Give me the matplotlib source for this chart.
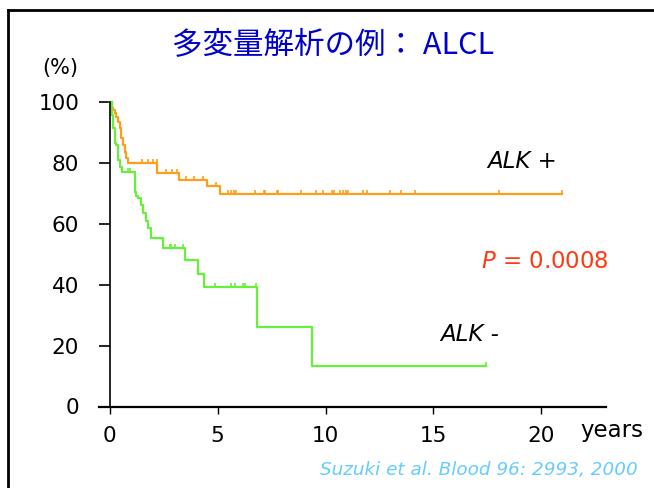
import matplotlib.pyplot as plt
from matplotlib.lines import Line2D

# Kaplan-Meier curves, ALCL by ALK status
alk_pos_time = [0, 0.08, 0.15, 0.23, 0.31, 0.39, 0.46, 0.54, 0.62, 0.69, 0.77, 0.85,
                2.2, 3.2, 4.5, 5.1, 20.96]
alk_pos_surv = [100, 98.0, 97.4, 96.3, 95.2, 93.5, 91.4, 88.2, 85.9, 83.7, 81.5, 80.0,
                76.7, 74.4, 72.4, 69.7, 69.7]

alk_neg_time = [0, 0.08, 0.15, 0.23, 0.31, 0.39, 0.46, 0.55, 1.16, 1.23, 1.31, 1.46,
                1.54, 1.70, 1.77, 1.93, 2.47, 3.5, 4.09, 4.35, 6.84, 9.35, 17.44]
alk_neg_surv = [100, 95.7, 91.5, 86.6, 85.9, 81.0, 78.8, 77.0, 70.6, 69.0, 68.4, 66.2,
                63.5, 60.8, 58.6, 55.3, 52.2, 48.0, 43.6, 39.2, 26.0, 13.4, 13.4]

# censored observations
alk_pos_cens_t = [1.5, 1.76, 2.0, 2.2, 2.6, 2.9, 3.1, 3.55, 3.9, 4.32, 4.9,
                  5.48, 5.63, 5.75, 5.83, 6.71, 7.13, 7.21, 7.76, 7.79, 8.84, 9.57, 9.87,
                  10.31, 10.37, 10.69, 10.83, 10.93, 11.03, 11.73, 11.91, 12.99, 13.5,
                  14.17, 18.06, 20.96]
alk_pos_cens_s = [80.0, 80.0, 80.0, 80.0, 76.7, 76.7, 76.7, 74.4, 74.4, 74.4, 72.4] + [69.7] * 25
alk_neg_cens_t = [0.83, 0.93, 2.78, 2.82, 3.0, 3.39, 4.86, 5.63, 5.82, 6.17, 6.28, 6.79, 17.44]
alk_neg_cens_s = [77.0, 77.0, 52.2, 52.2, 52.2, 52.2, 39.2, 39.2, 39.2, 39.2, 39.2, 39.2, 13.4]

xticks = [0, 5, 10, 15, 20]
yticks = [0, 20, 40, 60, 80, 100]

orange = '#FF9E1A'
green = '#66F03A'

plt.rcParams['font.family'] = ['DejaVu Sans']

W, H = 654, 488
fig = plt.figure(figsize=(W / 100, H / 100), dpi=100)
ax = fig.add_axes([99 / W, 81.5 / H, 507 / W, 304.5 / H])

ax.step(alk_pos_time, alk_pos_surv, where='post', color=orange, lw=1.6, clip_on=False)
ax.step(alk_neg_time, alk_neg_surv, where='post', color=green, lw=1.6, clip_on=False)
tick_mark = [(0, 0), (0, 1)]
ax.plot(alk_pos_cens_t, alk_pos_cens_s, ls='none', marker=tick_mark, ms=6, mew=1.2,
        color=orange, clip_on=False)
ax.plot(alk_neg_cens_t, alk_neg_cens_s, ls='none', marker=tick_mark, ms=6, mew=1.2,
        color=green, clip_on=False)

ax.set_xlim(-0.5, 23)
ax.set_ylim(0, 100)
ax.set_xticks(xticks)
ax.set_yticks(yticks)
ax.spines['top'].set_visible(False)
ax.spines['right'].set_visible(False)
ax.spines['left'].set_position(('data', 0))
ax.spines['left'].set_bounds(0, 100)
ax.spines['left'].set_linewidth(1.2)
ax.spines['bottom'].set_linewidth(1.6)
ax.tick_params(axis='y', length=8, width=1.2, pad=14, labelsize=15.5)
ax.tick_params(axis='x', length=5, width=1.0, pad=9, labelsize=15.5)

ax.text(17.5, 80.3, 'ALK +', style='italic', fontsize=16.5, va='center')
ax.text(15.3, 23.6, 'ALK -', style='italic', fontsize=16.5, va='center')
ax.text(17.2, 47.5, r'$\it{P}$ = 0.0008', fontsize=16.5, va='center', color='#FF3A10')

fig.text(333 / W, 1 - 46 / H, '多変量解析の例： ALCL', ha='center', va='center',
         fontsize=22, color='#0000CC', family=['Noto Sans CJK JP', 'DejaVu Sans'])
fig.text(78 / W, 1 - 68 / H, '(%)', ha='right', va='center', fontsize=15)
fig.text(580 / W, 1 - 431 / H, 'years', ha='left', va='center', fontsize=16.5)
fig.text(638 / W, 1 - 470 / H, 'Suzuki et al. Blood 96: 2993, 2000', ha='right',
         va='center', fontsize=13.2, style='italic', color='#66CCFF')

# slide frame
fig.add_artist(Line2D([7.5 / W, 1], [1 - 10 / H, 1 - 10 / H], color='black', lw=2))
fig.add_artist(Line2D([7.5 / W, 7.5 / W], [0, 1 - 10 / H], color='black', lw=2))

fig.savefig('out.png', dpi=100)
